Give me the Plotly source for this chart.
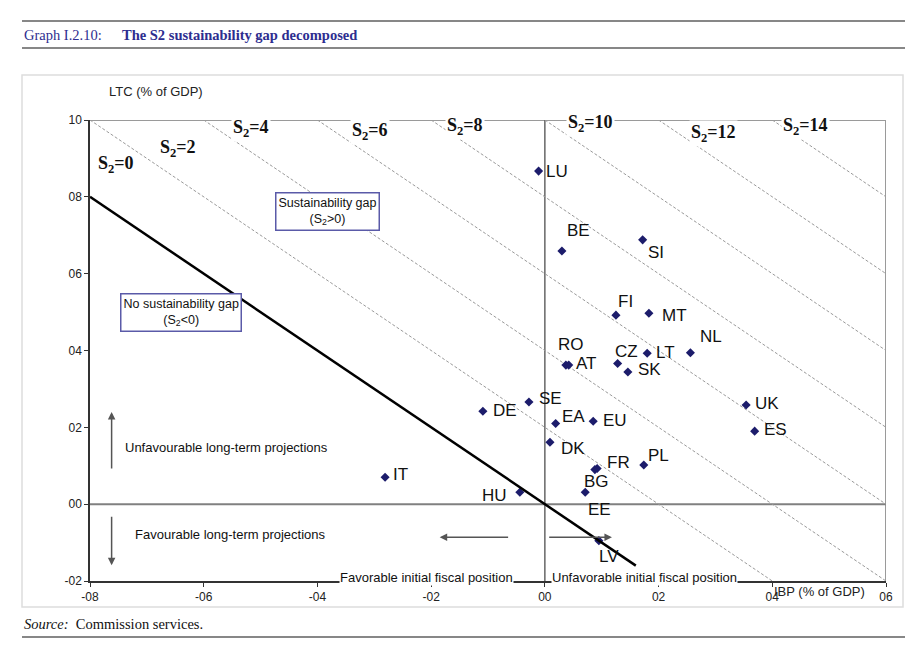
import plotly.graph_objects as go

# ---------------- data ----------------
countries = ["LU", "BE", "SI", "FI", "MT", "NL", "RO", "AT", "CZ", "LT", "SK",
             "SE", "DE", "EA", "EU", "DK", "FR", "BG", "EE", "PL", "UK", "ES",
             "HU", "IT", "LV"]
ibp = [-0.11, 0.30, 1.72, 1.25, 1.83, 2.56, 0.37, 0.42, 1.28, 1.80, 1.46,
       -0.28, -1.09, 0.19, 0.85, 0.09, 0.92, 0.88, 0.71, 1.74, 3.54, 3.69,
       -0.44, -2.81, 0.95]
ltc = [8.67, 6.59, 6.88, 4.92, 4.97, 3.94, 3.62, 3.62, 3.66, 3.93, 3.44,
       2.66, 2.42, 2.10, 2.16, 1.61, 0.93, 0.90, 0.31, 1.02, 2.58, 1.90,
       0.31, 0.70, -0.95]

s2_levels = [2, 4, 6, 8, 10, 12, 14]
s2_label_levels = [0, 2, 4, 6, 8, 10, 12, 14]

x_tickvals = [-8, -6, -4, -2, 0, 2, 4, 6]
x_ticktext = ["-08", "-06", "-04", "-02", "00", "02", "04", "06"]
y_tickvals = [-2, 0, 2, 4, 6, 8, 10]
y_ticktext = ["-02", "00", "02", "04", "06", "08", "10"]

XMIN, XMAX, YMIN, YMAX = -8, 6, -2, 10

# ---------------- layout helpers ----------------
W, H = 923, 658
L, R, T, B = 90, 886, 120, 581


def px(xp):
    return (xp - L) / (R - L)


def py(yp):
    return (B - yp) / (B - T)


NAVY = "#1c1c6b"
SANS = "Liberation Sans, Arial, sans-serif"
SERIF = "Liberation Serif, Times New Roman, serif"

fig = go.Figure()

# iso S2 dashed lines: y = k - x clipped to the plotting box
for k in s2_levels:
    x0 = max(XMIN, k - YMAX)
    x1 = min(XMAX, k - YMIN)
    fig.add_trace(go.Scatter(x=[x0, x1], y=[k - x0, k - x1], mode="lines",
                             line=dict(color="#9a9a9a", width=1, dash="3px,2px"),
                             hoverinfo="skip", showlegend=False))

# points
fig.add_trace(go.Scatter(x=ibp, y=ltc, mode="markers",
                         marker=dict(symbol="diamond", size=7, color=NAVY),
                         text=countries, hoverinfo="text", showlegend=False))

# S2 = 0 line (drawn over the markers, as in the original)
fig.add_trace(go.Scatter(x=[XMIN, 1.6], y=[-XMIN, -1.6], mode="lines",
                         line=dict(color="#000000", width=2.5),
                         hoverinfo="skip", showlegend=False))

# label offsets (px): (dx, dy, anchor)
offsets = {
    "LU": (5, 0, "left"), "BE": (3, -21, "left"), "SI": (3, 13, "left"),
    "FI": (0, -14, "left"), "MT": (11, 2, "left"), "NL": (8, -16, "left"),
    "RO": (-10, -21, "left"), "AT": (5, -2, "left"), "CZ": (-5, -12, "left"),
    "LT": (7, -1, "left"), "SK": (8, -3, "left"), "SE": (8, -3, "left"),
    "DE": (8, -1, "left"), "EA": (4, -7, "left"), "EU": (8, -1, "left"),
    "DK": (9, 6, "left"), "FR": (8, -6, "left"), "BG": (-13, 12, "left"),
    "EE": (1, 17, "left"), "PL": (2, -9, "left"), "UK": (7, -2, "left"),
    "ES": (7, -2, "left"), "HU": (-11, 3, "right"), "IT": (6, -3, "left"),
    "LV": (-2, 16, "left"),
}

annotations = []
for c, xv, yv in zip(countries, ibp, ltc):
    dx, dy, anc = offsets[c]
    annotations.append(dict(x=xv, y=yv, xref="x", yref="y", text=c,
                            showarrow=False, xanchor=anc, yanchor="middle",
                            xshift=dx, yshift=-dy,
                            font=dict(family=SANS, size=17, color="#111111")))

# S2 labels (positions in data units)
s2_label_pos = {0: (-7.55, 8.83), 2: (-6.45, 9.27), 4: (-5.17, 9.79),
                6: (-3.08, 9.69), 8: (-1.40, 9.82), 10: (0.80, 9.92),
                12: (2.97, 9.66), 14: (4.58, 9.84)}
for k in s2_label_levels:
    xv, yv = s2_label_pos[k]
    annotations.append(dict(x=xv, y=yv, xref="x", yref="y",
                            text=f"<b>S<sub>2</sub>={k}</b>", showarrow=False,
                            bgcolor="white" if k not in (0, 2) else "rgba(0,0,0,0)",
                            borderpad=1, yanchor="middle",
                            font=dict(family=SERIF, size=18, color="#111111")))

# boxes
annotations.append(dict(x=-3.82, y=7.63, xref="x", yref="y",
                        text="Sustainability gap<br>(S<sub>2</sub>>0)",
                        showarrow=False, bgcolor="white", bordercolor="#5a5aa8",
                        borderwidth=1.5, borderpad=2,
                        font=dict(family=SANS, size=12.5, color="#111111")))
annotations.append(dict(x=-6.40, y=5.0, xref="x", yref="y",
                        text="No sustainability gap<br>(S<sub>2</sub><0)",
                        showarrow=False, bgcolor="white", bordercolor="#5a5aa8",
                        borderwidth=1.5, borderpad=2,
                        font=dict(family=SANS, size=12.5, color="#111111")))

# projection texts
annotations.append(dict(x=-7.42, y=1.48, xref="x", yref="y", xanchor="left",
                        text="Unfavourable long-term projections", showarrow=False,
                        font=dict(family=SANS, size=13, color="#111111")))
annotations.append(dict(x=-7.25, y=-0.78, xref="x", yref="y", xanchor="left",
                        text="Favourable long-term projections", showarrow=False,
                        font=dict(family=SANS, size=13, color="#111111")))
annotations.append(dict(x=-2.09, y=-1.9, xref="x", yref="y",
                        text="Favorable initial fiscal position", showarrow=False,
                        bgcolor="white", borderpad=0,
                        font=dict(family=SANS, size=13, color="#111111")))
annotations.append(dict(x=1.76, y=-1.9, xref="x", yref="y",
                        text="Unfavorable initial fiscal position", showarrow=False,
                        bgcolor="white", borderpad=0,
                        font=dict(family=SANS, size=13, color="#111111")))

# arrows
for (hx, hy, tx, ty) in [(-7.62, 2.40, -7.62, 0.89), (-7.62, -1.59, -7.62, -0.29),
                         (-1.85, -0.86, -0.62, -0.86), (1.18, -0.86, 0.05, -0.86)]:
    annotations.append(dict(x=hx, y=hy, ax=tx, ay=ty, xref="x", yref="y",
                            axref="x", ayref="y", text="", showarrow=True,
                            arrowhead=2, arrowsize=1, arrowwidth=1.5,
                            arrowcolor="#555555"))

# axis titles
annotations.append(dict(x=px(156), y=py(92), xref="paper", yref="paper",
                        xanchor="center", yanchor="middle",
                        text="LTC (% of GDP)", showarrow=False,
                        font=dict(family=SANS, size=13, color="#222222")))
annotations.append(dict(x=px(819), y=py(591), xref="paper", yref="paper",
                        xanchor="center", yanchor="middle",
                        text="IBP (% of GDP)", showarrow=False,
                        font=dict(family=SANS, size=13, color="#222222")))

# header / footer
annotations.append(dict(x=px(22), y=py(35), xref="paper", yref="paper",
                        xanchor="left", yanchor="middle",
                        text="Graph I.2.10:", showarrow=False,
                        font=dict(family=SERIF, size=14.5, color="#2d2d8f")))
annotations.append(dict(x=px(120), y=py(35), xref="paper", yref="paper",
                        xanchor="left", yanchor="middle",
                        text="<b>The S2 sustainability gap decomposed</b>",
                        showarrow=False,
                        font=dict(family=SERIF, size=14.5, color="#2d2d8f")))
annotations.append(dict(x=px(22), y=py(624), xref="paper", yref="paper",
                        xanchor="left", yanchor="middle",
                        text="<i>Source:</i>  Commission services.",
                        showarrow=False,
                        font=dict(family=SERIF, size=14.5, color="#111111")))

shapes = [
    # header lines
    dict(type="line", xref="paper", yref="paper", x0=px(22), x1=px(905),
         y0=py(21), y1=py(21), line=dict(color="#111111", width=1.2)),
    dict(type="line", xref="paper", yref="paper", x0=px(22), x1=px(905),
         y0=py(48), y1=py(48), line=dict(color="#111111", width=1.2)),
    dict(type="line", xref="paper", yref="paper", x0=px(22), x1=px(905),
         y0=py(637), y1=py(637), line=dict(color="#111111", width=1.2)),
    # outer light frame
    dict(type="rect", xref="paper", yref="paper", x0=px(22), x1=px(903),
         y0=py(607), y1=py(75), line=dict(color="#dddddd", width=1.5),
         layer="below"),
    # top and right borders
    dict(type="line", xref="x", yref="y", x0=XMIN, x1=XMAX, y0=YMAX, y1=YMAX,
         line=dict(color="#9a9a9a", width=2), layer="below"),
    dict(type="line", xref="x", yref="y", x0=XMAX, x1=XMAX, y0=YMIN, y1=YMAX,
         line=dict(color="#9a9a9a", width=2), layer="below"),
    # zero lines
    dict(type="line", xref="x", yref="y", x0=0, x1=0, y0=YMIN, y1=YMAX,
         line=dict(color="#666666", width=1.5), layer="below"),
    dict(type="line", xref="x", yref="y", x0=XMIN, x1=XMAX, y0=0, y1=0,
         line=dict(color="#808080", width=2), layer="below"),
]

fig.update_layout(
    width=W, height=H, autosize=False,
    margin=dict(l=L, r=W - R, t=T, b=H - B),
    paper_bgcolor="white", plot_bgcolor="white",
    showlegend=False,
    annotations=annotations, shapes=shapes,
    xaxis=dict(range=[XMIN, XMAX], tickvals=x_tickvals, ticktext=x_ticktext,
               showgrid=False, zeroline=False, showline=True,
               linecolor="#333333", linewidth=1.5, ticks="outside", ticklen=4,
               tickcolor="#333333",
               tickfont=dict(family=SANS, size=12, color="#222222")),
    yaxis=dict(range=[YMIN, YMAX], tickvals=y_tickvals, ticktext=y_ticktext,
               showgrid=False, zeroline=False, showline=True,
               linecolor="#333333", linewidth=1.5, ticks="outside", ticklen=4,
               tickcolor="#333333",
               tickfont=dict(family=SANS, size=12, color="#222222")),
)

fig.write_html("out.html", config={"displayModeBar": False},
               post_script="document.body.style.margin='0px';"
                           "document.body.style.overflow='hidden';")
